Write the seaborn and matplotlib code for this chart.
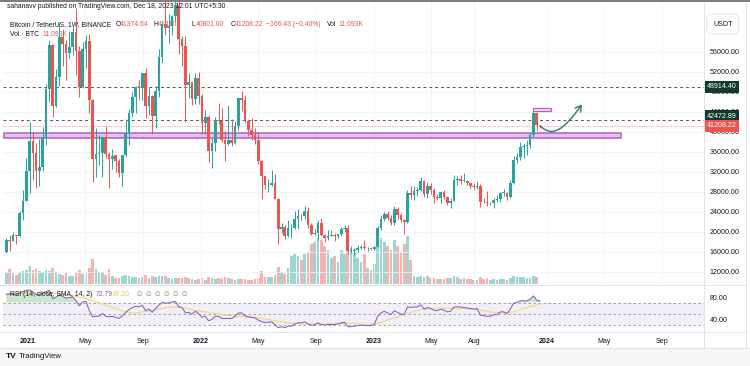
import numpy as np
import pandas as pd
import matplotlib
matplotlib.use('Agg')
import matplotlib.pyplot as plt
import matplotlib.dates as mdates
from matplotlib.path import Path
from matplotlib.patches import FancyArrowPatch, Rectangle
import seaborn as sns

sns.set_theme(style='white')
plt.rcParams['font.family'] = ['Liberation Sans', 'DejaVu Sans']

# ---------------- data (weekly BTC/USDT) ----------------
first_week = '2020-11-16'
first_open = 15960

closes = [18370, 18180, 19360, 19270, 23830, 26270, 32200,
          38150, 35830, 32260, 33090, 38900, 48580, 57410, 45140, 50970, 59000,
          57520, 55820, 57060, 60000, 56200, 49070, 56620, 58240, 46430, 34700,
          35680, 35800, 39100, 35600, 34700, 35300, 34240, 31780, 35400, 39850,
          43800, 47050, 49100, 48830, 51750, 45170, 47260, 43170, 48200, 54960,
          61530, 60900, 61300, 63300, 65500, 58600, 57300, 49400, 50100, 46700,
          50800, 47300,
          41800, 43100, 36300, 37900, 42400, 42200, 38400, 37700, 38400, 37800,
          41300, 46800, 46400, 42200, 40400, 39500, 38500, 34300, 31300, 29400,
          29400, 29900, 26600, 20600, 21000, 19300, 20800, 20800, 22600, 23300,
          23200, 24300, 21500, 19600, 19800, 21800, 19400, 18800, 19300, 19400,
          19200, 19600, 20600, 20900, 16300, 16300, 16400, 16900, 17100, 16800,
          16800, 16600,
          17100, 20900, 22700, 23700, 22900, 21800, 24600, 23500, 22400, 22000,
          27900, 27500, 28200, 28400, 30300, 27600, 29200, 28400, 27000, 26800,
          28100, 27100, 25900, 26300, 30500, 30600, 30300, 30300, 29900, 29300,
          29000, 29300, 26100, 26000, 25800, 25900, 26500, 26600, 27900, 27900,
          27100, 29900, 34500, 35000, 37100, 37300, 37400, 39400, 43900, 41375,
          41208.22]

highs = [18800, 19480, 19920, 19420, 24300, 28400, 34780,
         41950, 40100, 37850, 38530, 40950, 49700, 58350, 57530, 52640, 61790,
         60630, 58400, 60200, 61100, 64850, 57200, 58000, 59500, 59600, 46600,
         40850, 39480, 39300, 41300, 36000, 36600, 35100, 34600, 35400, 42600,
         44700, 48100, 49300, 50500, 51000, 52900, 48850, 47400, 49200, 56600,
         62000, 67000, 63700, 63500, 69000, 66300, 59300, 59200, 51900, 50000,
         51900, 52000,
         47600, 44400, 43500, 38900, 43000, 45800, 44800, 40200, 45400, 42600,
         42300, 46900, 48200, 47400, 42400, 42900, 40800, 39900, 34400, 31300,
         30700, 32400, 31700, 26900, 21900, 21500, 22500, 21600, 24300, 24700,
         23650, 25200, 25100, 21900, 20600, 22400, 22800, 19700, 20400, 20500,
         19900, 19700, 21000, 21500, 21500, 17200, 16800, 17400, 17400, 18400,
         17100, 16950,
         17300, 21300, 23400, 23950, 24250, 23400, 25250, 25000, 23900, 22600,
         28400, 29200, 29200, 29100, 31000, 30500, 30000, 29800, 28900, 27700,
         28300, 28450, 27300, 26800, 31400, 31300, 31500, 31800, 30400, 29900,
         29800, 30200, 29700, 26800, 28150, 26100, 26800, 27400, 28000, 28600,
         28000, 30400, 35300, 35900, 38000, 37900, 38400, 39800, 44700, 43400,
         41410]

lows = [15850, 16190, 18120, 17570, 19000, 22350, 26150,
        27730, 30420, 28850, 29240, 32300, 37370, 46000, 43000, 45000, 49280,
        53270, 50430, 54900, 55500, 51500, 47000, 48800, 52900, 43800, 30000,
        31000, 33400, 31100, 34800, 28800, 32700, 32100, 31050, 29300, 35200,
        37500, 43100, 43900, 46400, 46500, 42800, 43400, 39600, 40800, 47100,
        53900, 59500, 57800, 59400, 62300, 55600, 53300, 42000, 46800, 45500,
        45600, 45700,
        39650, 39700, 34000, 32900, 36250, 41700, 38000, 34300, 37500, 37200,
        37600, 40500, 44300, 41900, 39200, 38500, 37700, 33700, 26700, 28600,
        28000, 29300, 26600, 17600, 19800, 18600, 19000, 18900, 20700, 20700,
        22400, 22700, 20800, 19500, 19500, 18500, 19300, 18100, 18500, 19200,
        18200, 18900, 19300, 20000, 15600, 15800, 15500, 16000, 16700, 16500,
        16300, 16350,
        16500, 17100, 20400, 22300, 22500, 21350, 21500, 22700, 21950, 19550,
        21800, 26600, 26500, 27200, 28200, 27100, 26900, 27700, 25800, 26400,
        25900, 26600, 25350, 24800, 26200, 29500, 29700, 29950, 29500, 28900,
        28600, 28700, 25100, 25800, 25300, 25400, 24900, 26000, 26000, 27200,
        26500, 26800, 29700, 33900, 34500, 34800, 35500, 36800, 39000, 40200,
        40801]

# volume, thousand BTC per week
volumes = [600, 750, 550, 450, 600, 650, 700,
           900, 700, 750, 650, 600, 700, 650, 800, 550, 500, 450, 550, 400, 400,
           600, 700, 500, 550, 800, 1250, 750, 550, 600, 450, 750, 400, 300, 300,
           400, 450, 400, 350, 330, 300, 350, 450, 280, 380, 350, 380, 380, 380,
           300, 250, 280, 300, 300, 350, 280, 250, 200, 230,
           280, 220, 330, 300, 250, 300, 250, 330, 300, 230, 220, 250, 250, 250,
           200, 200, 230, 300, 650, 330, 350, 350, 450, 850, 600, 500, 800, 1400,
           1500, 1400, 1200, 1500, 1600, 2000, 2100, 2300, 2200, 1900, 1700,
           1300, 1400, 1100, 1700, 1500, 2300, 1800, 1600, 1300, 1100, 1500, 800,
           700,
           1000, 2000, 2300, 2100, 1900, 1700, 2200, 1900, 1600, 2000, 2400,
           1200, 400, 330, 380, 360, 380, 300, 320, 260, 240, 260, 300, 320, 400,
           350, 260, 300, 240, 230, 220, 210, 350, 270, 280, 220, 250, 210, 230,
           250, 220, 300, 420, 360, 360, 350, 310, 300, 400, 350, 11.093]

rsi = [84, 86, 85, 84, 88, 90, 92, 93, 89, 84, 84, 87, 90, 92, 77, 80, 84, 81,
       78, 79, 80, 74, 64, 71, 72, 56, 44, 45, 45, 50, 45, 44, 45, 43, 41, 46,
       52, 57, 61, 63, 62, 65, 55, 58, 52, 59, 65, 70, 69, 69, 71, 72, 62, 61,
       51, 52, 49, 54, 50, 43, 45, 37, 39, 45, 45, 41, 41, 41, 41, 45, 51, 51,
       46, 44, 43, 42, 38, 35, 34, 34, 35, 30, 24, 26, 24, 27, 27, 31, 33, 33,
       35, 31, 29, 29, 33, 30, 29, 30, 30, 30, 31, 33, 34, 26, 26, 27, 28, 29,
       28, 28, 28, 30, 45, 51, 54, 51, 48, 55, 52, 49, 48, 62, 61, 62, 62, 66,
       58, 61, 59, 56, 55, 58, 56, 53, 54, 62, 62, 62, 61, 60, 59, 58, 59, 47,
       46, 45, 45, 48, 48, 53, 53, 50, 58, 69, 70, 73, 73, 73, 76, 82, 74, 72.79]

rsi_sma = [86, 86, 86, 86, 86, 87, 87, 87, 87, 87, 87, 87, 88, 88,
           87, 86, 86, 85, 84, 83, 82, 81, 80, 78, 77, 75, 73, 71, 69, 67,
           65, 63, 61, 59, 57, 55, 53, 52, 51, 51, 52, 53, 54, 55, 56, 57, 58, 59,
           60, 61, 62, 62, 61, 60, 59, 58, 57, 56, 55, 54, 53, 52, 51, 50, 49, 48,
           47, 46, 46, 45, 45, 45, 44, 44, 43, 43, 42, 41, 40, 39, 38, 37, 36, 35,
           34, 33, 33, 32, 32, 31, 31, 31, 31, 31, 31, 31, 31, 31, 31, 31, 32, 32,
           32, 32, 32, 32, 32, 31, 31, 31, 31, 31, 32, 34, 36, 38, 40, 42, 44, 46,
           48, 50, 52, 54, 55, 57, 58, 58, 59, 59, 60, 60, 60, 60, 59, 59, 59, 59,
           59, 58, 58, 58, 57, 56, 55, 54, 53, 52, 52, 51, 51, 51, 52, 53, 55, 57,
           59, 61, 63, 64, 66, 67.2]

price_ticks = [12000, 16000, 20000, 24000, 28000, 32000, 36000, 40000, 44000,
               48000, 52000, 56000]
rsi_ticks = [80, 40]
time_ticks = ['2021-01-01', '2021-05-01', '2021-09-01', '2022-01-01', '2022-05-01',
              '2022-09-01', '2023-01-01', '2023-05-01', '2023-08-01', '2024-01-01',
              '2024-05-01', '2024-09-01']
time_labels = ['2021', 'May', 'Sep', '2022', 'May', 'Sep', '2023', 'May', 'Aug',
               '2024', 'May', 'Sep']

# user drawings
level_high = 48914.40
level_mid = 42472.89
last_close = 41208.22
zone_low, zone_high = 38800, 39750
zone_start, zone_end = '2020-11-12', '2024-06-05'
box_low, box_high = 44200, 44800
box_start, box_end = '2023-12-04', '2024-01-10'
arrow_pts = [('2023-12-20', 41100), ('2024-01-12', 39000),
             ('2024-02-05', 40200), ('2024-03-15', 45500)]

# ---------------- frame ----------------
weeks = pd.date_range(first_week, periods=len(closes), freq='7D')
opens = [first_open] + closes[:-2] + [41374.64]
df = pd.DataFrame({'date': weeks, 'open': opens, 'high': highs, 'low': lows,
                   'close': closes, 'vol': volumes, 'rsi': rsi, 'sma': rsi_sma})
df['up'] = df['close'] >= df['open']

GREEN, RED = '#26a69a', '#ef5350'
TXT = '#131722'
W, H = 750, 366
fx = lambda px: px / W
fy = lambda py: 1 - py / H

fig = plt.figure(figsize=(7.5, 3.66), dpi=100)
fig.patch.set_facecolor('white')

x0, x1 = mdates.datestr2num('2020-11-09'), mdates.datestr2num('2024-11-28')
L, R = 3, 704

# volume pane (behind candles)
ax_vol = fig.add_axes([fx(L), fy(284), fx(R) - fx(L), 60 / H], zorder=0)
ax_vol.bar(df['date'], df['vol'], width=5.6,
           color=np.where(df['up'], GREEN, RED), alpha=0.45, linewidth=0)
ax_vol.set_xlim(x0, x1)
ax_vol.set_ylim(0, 3000)
ax_vol.axis('off')

# main price pane
ax = fig.add_axes([fx(L), fy(284), fx(R) - fx(L), 283 / H], zorder=1)
ax.patch.set_alpha(0)
ax.set_xlim(x0, x1)
ax.set_ylim(9600, 66200)
for t in time_ticks:
    ax.axvline(mdates.datestr2num(t), color='#f0f3fa', lw=0.6, zorder=0)
for p in price_ticks:
    ax.axhline(p, color='#f0f3fa', lw=0.6, zorder=0)

colors = np.where(df['up'], GREEN, RED)
ax.vlines(df['date'], df['low'], df['high'], colors=colors, lw=0.7, zorder=3)
body = (df['close'] - df['open']).abs().clip(lower=100)
ax.bar(df['date'], body, bottom=df[['open', 'close']].min(axis=1), width=5.6,
       color=colors, linewidth=0, zorder=4)

# horizontal levels
ax.axhline(level_high, color='#555555', lw=0.7, ls=(0, (3, 3)), zorder=2)
ax.axhline(level_mid, color='#555555', lw=0.7, ls=(0, (3, 3)), zorder=2)
ax.axhline(last_close, color='#f3a5a3', lw=0.8, ls=(0, (1, 1.2)), zorder=2)

# support zone + target box
zs, ze = mdates.datestr2num(zone_start), mdates.datestr2num(zone_end)
ax.add_patch(Rectangle((zs, zone_low), ze - zs, zone_high - zone_low,
                       facecolor='#e6c3ee', edgecolor='#b25ec4', lw=1.1, zorder=2))
bs, be = mdates.datestr2num(box_start), mdates.datestr2num(box_end)
ax.add_patch(Rectangle((bs, box_low), be - bs, box_high - box_low,
                       facecolor='#f3e3f7', edgecolor='#b25ec4', lw=0.9, zorder=5))

# projected move arrow
verts = [(mdates.datestr2num(d), v) for d, v in arrow_pts]
path = Path(verts, [Path.MOVETO, Path.CURVE4, Path.CURVE4, Path.CURVE4])
ax.add_patch(FancyArrowPatch(path=path, arrowstyle='->,head_length=4,head_width=2.5',
                             color='#2c7a76', lw=1.0, zorder=6))

ax.yaxis.tick_right()
ax.set_yticks(price_ticks)
ax.set_yticklabels([f'{p:.2f}' for p in price_ticks])
ax.tick_params(axis='y', length=0, pad=4, labelsize=5.1, labelcolor=TXT)
ax.set_xticks([])
for s in ['top', 'left', 'bottom', 'right']:
    ax.spines[s].set_visible(False)

# legend lines on the chart
ax.text(fx(10), fy(25), 'Bitcoin / TetherUS, 1W, BINANCE', transform=fig.transFigure,
        fontsize=4.9, color=TXT, va='center', zorder=1)
legend_items = [(116, 'O', '41374.64'), (154, 'H', '41410'), (192, 'L', '40801.00'),
                (231, 'C', '41208.22')]
for px, k, v in legend_items:
    ax.text(fx(px), fy(25), k, transform=fig.transFigure, fontsize=4.9, color=TXT,
            va='center', zorder=1)
    ax.text(fx(px + 4), fy(25), v, transform=fig.transFigure, fontsize=4.9, color=RED,
            va='center', zorder=1)
ax.text(fx(266), fy(25), '\u2212166.43 (\u22120.40%)', transform=fig.transFigure,
        fontsize=4.9, color=RED, va='center', zorder=1)
ax.text(fx(327), fy(25), 'Vol', transform=fig.transFigure, fontsize=4.9, color=TXT,
        va='center', zorder=1)
ax.text(fx(338), fy(25), '11.093K', transform=fig.transFigure, fontsize=4.9, color=RED,
        va='center', zorder=1)
ax.text(fx(10), fy(34), 'Vol \u00b7 BTC', transform=fig.transFigure, fontsize=4.9,
        color=TXT, va='center', zorder=1)
ax.text(fx(42), fy(34), '11.093K', transform=fig.transFigure, fontsize=4.9, color=RED,
        va='center', zorder=1)

# ---------------- RSI pane ----------------
ax_r = fig.add_axes([fx(L), fy(331), fx(R) - fx(L), 45 / H])
ax_r.set_xlim(x0, x1)
ax_r.set_ylim(18.2, 100)
ax_r.axhspan(30, 70, color='#7e57c2', alpha=0.09, lw=0)
for lvl in [70, 50, 30]:
    ax_r.axhline(lvl, color='#9598a1', lw=0.6, ls=(0, (3, 3)))
ax_r.fill_between(df['date'], 70, df['rsi'], where=df['rsi'] > 70, interpolate=True,
                  color='#66bb6a', alpha=0.35, lw=0)
sns.lineplot(x=df['date'], y=df['sma'], ax=ax_r, color='#f2d675', lw=0.8)
sns.lineplot(x=df['date'], y=df['rsi'], ax=ax_r, color='#7e57c2', lw=0.7)
ax_r.set_xlabel('')
ax_r.set_ylabel('')
ax_r.yaxis.tick_right()
ax_r.set_yticks(rsi_ticks)
ax_r.set_yticklabels([f'{v:.2f}' for v in rsi_ticks])
ax_r.set_xticks([mdates.datestr2num(t) for t in time_ticks])
ax_r.set_xticklabels(time_labels)
for lab in ax_r.get_xticklabels():
    if lab.get_text().isdigit():
        lab.set_fontweight('bold')
ax_r.tick_params(axis='y', length=0, pad=4, labelsize=5.1, labelcolor=TXT)
ax_r.tick_params(axis='x', length=0, pad=5, labelsize=5.1, labelcolor=TXT)
for s in ['top', 'left', 'bottom', 'right']:
    ax_r.spines[s].set_visible(False)

ax_r.text(fx(10), fy(294), 'RSI (14, close, SMA, 14, 2)', transform=fig.transFigure,
          fontsize=4.9, color=TXT, va='center')
ax_r.text(fx(96), fy(294), '72.79', transform=fig.transFigure, fontsize=4.9,
          color='#7e57c2', va='center')
ax_r.text(fx(113), fy(294), '67.20', transform=fig.transFigure, fontsize=4.9,
          color='#e6c54f', va='center')
ax_r.text(fx(137), fy(294), '\u2205  \u2205  \u2205  \u2205  \u2205  \u2205',
          transform=fig.transFigure, fontsize=4.6, color='#787b86', va='center')

# ---------------- chrome: separators, price labels, header, footer ----------------
sep = dict(color='#e0e3eb', lw=0.7, transform=fig.transFigure)
fig.add_artist(plt.Line2D([fx(R), fx(R)], [fy(348), fy(2)], **sep))
fig.add_artist(plt.Line2D([fx(746), fx(746)], [fy(348), fy(2)], **sep))
fig.add_artist(plt.Line2D([0, fx(746)], [fy(285), fy(285)], **sep))
fig.add_artist(plt.Line2D([0, fx(746)], [fy(332), fy(332)], **sep))
fig.add_artist(plt.Line2D([0, 1], [fy(348), fy(348)], **sep))
fig.add_artist(plt.Line2D([0, 1], [fy(0.5), fy(0.5)], color='#666666', lw=1.2,
                          transform=fig.transFigure))
fig.add_artist(Rectangle((0, 0), 1, fy(348), facecolor='#f6f6f7', lw=0,
                         transform=fig.transFigure, zorder=-1))

fig.text(fx(7), fy(6.5), 'sahanavv published on TradingView.com, Dec 18, 2023 12:01 UTC+5:30',
         fontsize=4.9, color=TXT, va='center', zorder=5)
fig.text(fx(713), fy(24), 'USDT', fontsize=5.1, color=TXT, va='center', zorder=5,
         bbox=dict(boxstyle='round,pad=0.9', fc='white', ec='#e0e3eb', lw=0.6))

# price-scale labels (TradingView nudges overlapping ones apart)
price_boxes = [(level_high, 87, '#0e3b2e'), (level_mid, 116, '#0e3b2e'),
               (last_close, 126, RED)]
for val, py, c in price_boxes:
    fig.text(fx(707), fy(py), f'{val:.2f}', fontsize=5.1, color='white', va='center',
             ha='left', zorder=6,
             bbox=dict(boxstyle='square,pad=0.3', fc=c, ec='none'))

fig.text(fx(6), fy(357), 'TV', fontsize=6, fontweight='bold', color=TXT, va='center')
fig.text(fx(19), fy(357), 'TradingView', fontsize=5.6, color=TXT, va='center')

plt.savefig('out.png', dpi=100, facecolor='white')
